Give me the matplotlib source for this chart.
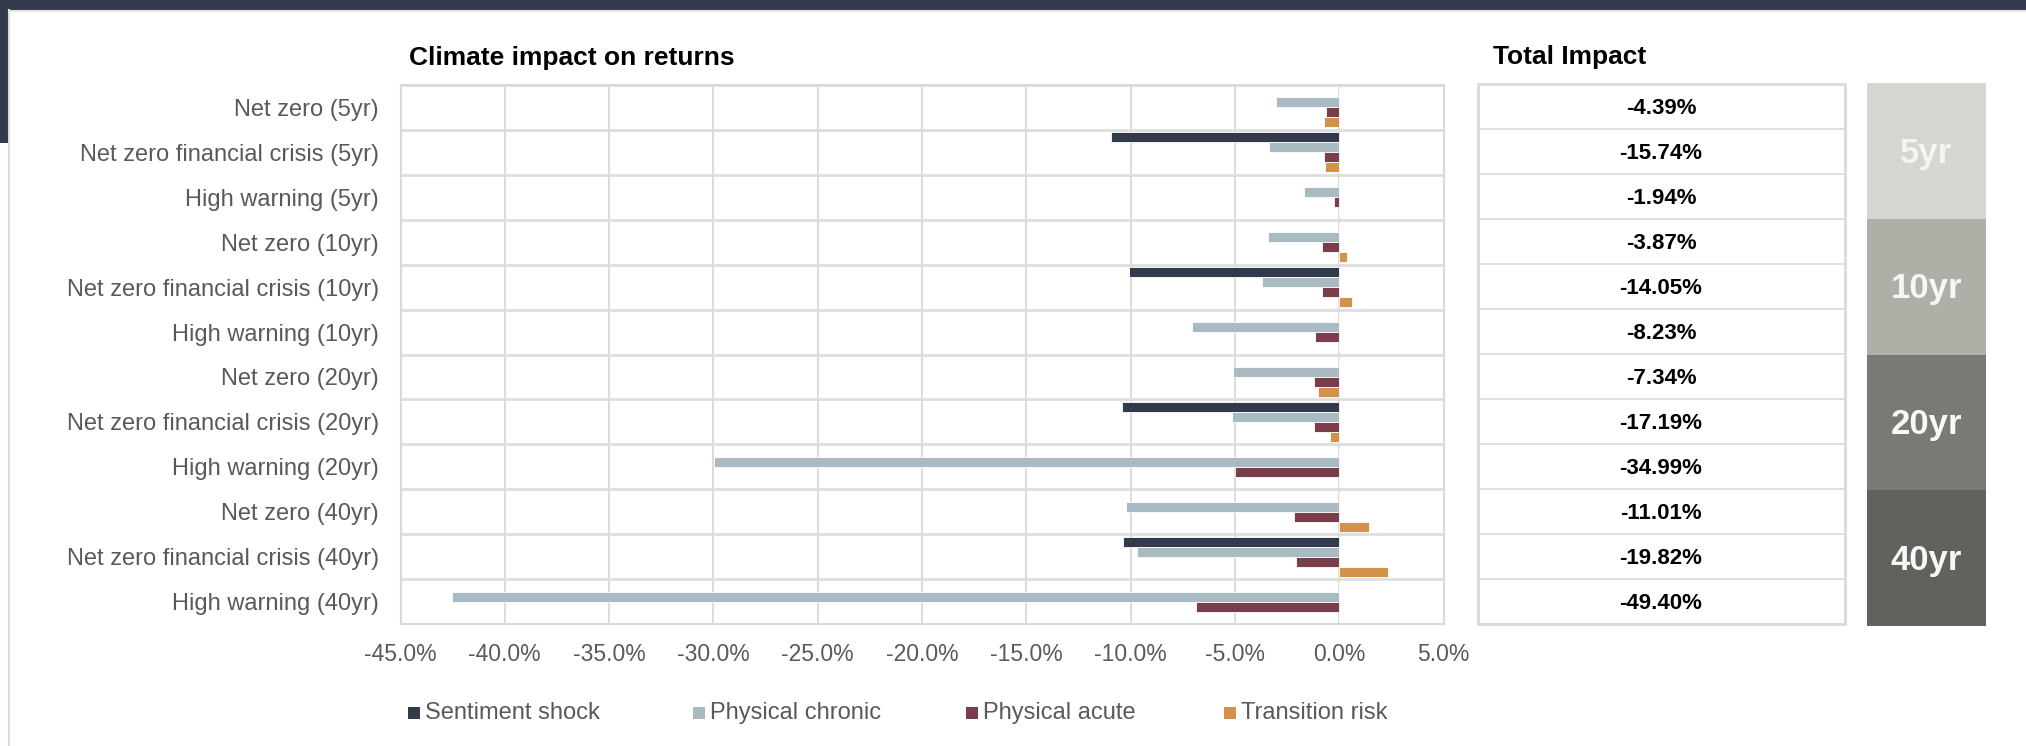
import numpy as np
import matplotlib
matplotlib.use("Agg")
import matplotlib.pyplot as plt
import matplotlib.patches as patches

plt.rcParams['font.family'] = ['Liberation Sans', 'DejaVu Sans']

# --- data ---
scenarios = [
    "Net zero (5yr)", "Net zero financial crisis (5yr)", "High warning (5yr)",
    "Net zero (10yr)", "Net zero financial crisis (10yr)", "High warning (10yr)",
    "Net zero (20yr)", "Net zero financial crisis (20yr)", "High warning (20yr)",
    "Net zero (40yr)", "Net zero financial crisis (40yr)", "High warning (40yr)",
]
sentiment_shock = [0, -10.96, 0, 0, -10.10, 0, 0, -10.40, 0, 0, -10.38, 0]
physical_chronic = [-3.03, -3.36, -1.68, -3.43, -3.72, -7.08, -5.10, -5.16, -29.99, -10.24, -9.70, -42.55]
physical_acute = [-0.64, -0.74, -0.26, -0.81, -0.84, -1.15, -1.20, -1.19, -5.00, -2.18, -2.09, -6.85]
transition_risk = [-0.71, -0.67, 0, 0.37, 0.61, 0, -1.04, -0.44, 0, 1.41, 2.35, 0]
total_impact = ["-4.39%", "-15.74%", "-1.94%", "-3.87%", "-14.05%", "-8.23%",
                "-7.34%", "-17.19%", "-34.99%", "-11.01%", "-19.82%", "-49.40%"]
horizons = ["5yr", "10yr", "20yr", "40yr"]
series_names = ["Sentiment shock", "Physical chronic", "Physical acute", "Transition risk"]

series = [sentiment_shock, physical_chronic, physical_acute, transition_risk]
colors = ["#323a4b", "#a9bac2", "#7a3d4b", "#d2924a"]
horizon_colors = ["#d6d6d0", "#afafa8", "#7a7974", "#62615d"]
horizon_text = ["#f4f4f2", "#f6f6f6", "#f8f8f8", "#f8f8f8"]

W, H = 2026, 746
fig = plt.figure(figsize=(W / 100, H / 100), dpi=100)
fig.patch.set_facecolor('white')


def box(x0, y0, x1, y1):
    # pixel box (from top-left) -> figure fraction rect
    return [x0 / W, 1 - y1 / H, (x1 - x0) / W, (y1 - y0) / H]


# page frame
fig.add_artist(patches.Rectangle((0, 1 - 10 / H), 1, 10 / H, transform=fig.transFigure,
                                 facecolor="#323a4c", edgecolor='none'))
fig.add_artist(patches.Rectangle((0, 1 - 143 / H), 8 / W, 143 / H, transform=fig.transFigure,
                                 facecolor="#323a4c", edgecolor='none'))
fig.add_artist(plt.Line2D([9 / W, 9 / W], [0, 1 - 10 / H], transform=fig.transFigure,
                          color="#dcdcdc", lw=1.5))
fig.add_artist(plt.Line2D([9 / W, 1], [1 - 11 / H, 1 - 11 / H], transform=fig.transFigure,
                          color="#e4e4e4", lw=1.5))

# --- bar chart ---
ax = fig.add_axes(box(400.5, 85, 1443.6, 624))
n = len(scenarios)
y = np.arange(n)
bh = 0.2227
for i, (vals, c) in enumerate(zip(series, colors)):
    ax.barh(y + (i - 1.5) * bh, vals, height=bh, color=c, edgecolor='white',
            linewidth=0.6, zorder=3)

ax.set_xlim(-45, 5)
ax.set_ylim(n - 0.5, -0.5)
ax.set_xticks(np.arange(-45, 5.1, 5))
ax.set_xticklabels([f"{v:.1f}%" for v in np.arange(-45, 5.1, 5)])
ax.set_yticks(y)
ax.set_yticklabels(scenarios)
ax.set_yticks(np.arange(-0.5, n, 1), minor=True)
ax.grid(axis='x', color="#d9d9d9", lw=1.3, zorder=0)
ax.grid(axis='y', which='minor', color="#dedede", lw=2.0, zorder=0)
ax.tick_params(axis='y', which='both', length=0, labelsize=17, colors="#595959", pad=15.5)
ax.tick_params(axis='x', length=0, labelsize=16.5, colors="#595959", pad=14)
for s in ax.spines.values():
    s.set_color("#d9d9d9")
    s.set_linewidth(1.5)
fig.text(409 / W, 1 - 58 / H, "Climate impact on returns", fontsize=19, fontweight='bold',
         va='center', ha='left', color='black')

# --- legend ---
legend_x = [408, 693, 966, 1224]
for name, c, lx in zip(series_names, colors, legend_x):
    fig.add_artist(patches.Rectangle((lx / W, 1 - 719 / H), 12 / W, 12 / H,
                                     transform=fig.transFigure, facecolor=c, edgecolor='none'))
    fig.text((lx + 17) / W, 1 - 713 / H, name, fontsize=17, color="#595959",
             va='center', ha='left')

# --- total impact table ---
axt = fig.add_axes(box(1477.5, 84, 1844.5, 624))
axt.set_xlim(0, 1)
axt.set_ylim(n, 0)
axt.axis('off')
axt.add_patch(patches.Rectangle((0, 0), 1, n, facecolor='white', edgecolor="#d9d9d9", lw=2,
                                clip_on=False))
for k in range(1, n):
    axt.axhline(k, color="#dcdcdc", lw=1.3)
for k, t in enumerate(total_impact):
    axt.text(0.5, k + 0.55, t, ha='center', va='center', fontsize=16, fontweight='bold',
             color='black')
fig.text(1493 / W, 1 - 57 / H, "Total Impact", fontsize=19, fontweight='bold',
         va='center', ha='left', color='black')

# --- horizon blocks ---
axb = fig.add_axes(box(1867, 83, 1986, 626))
axb.set_xlim(0, 1)
axb.set_ylim(n, 0)
axb.axis('off')
per = n // len(horizons)
for k, (h, c, tc) in enumerate(zip(horizons, horizon_colors, horizon_text)):
    axb.add_patch(patches.Rectangle((0, k * per), 1, per, facecolor=c, edgecolor='none'))
    axb.text(0.5, k * per + per / 2 + 0.05, h, ha='center', va='center', fontsize=25,
             fontweight='bold', color=tc)

fig.savefig("out.png", dpi=100)
